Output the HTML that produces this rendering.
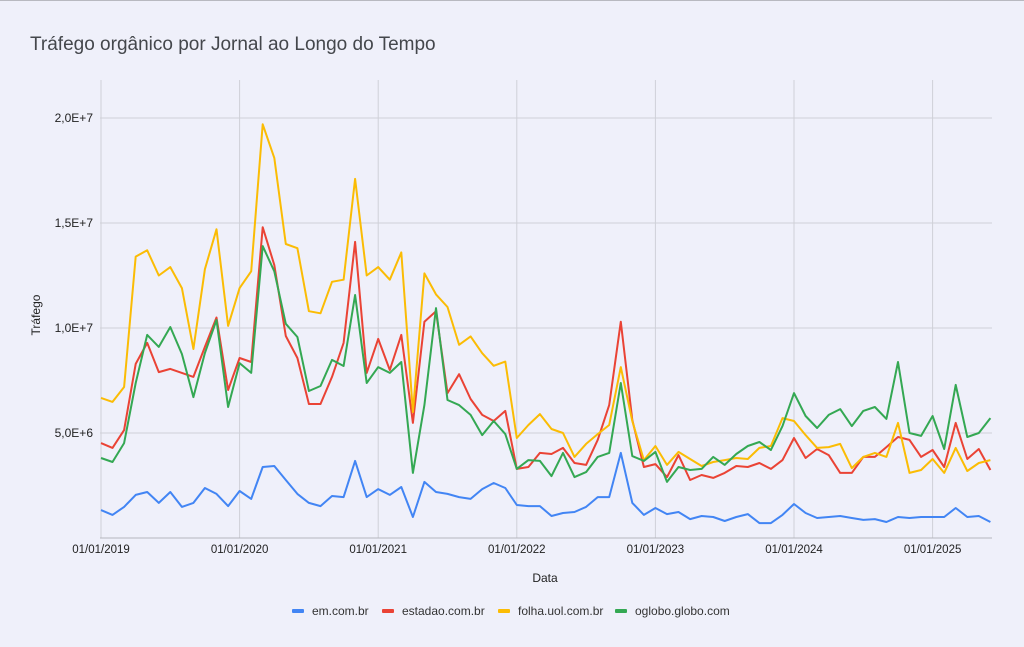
<!DOCTYPE html>
<html><head><meta charset="utf-8"><style>
html,body{margin:0;padding:0;background:#eff0fa;}
body{width:1024px;height:647px;overflow:hidden;position:relative;font-family:"Liberation Sans",Arial,sans-serif;}
</style></head><body>
<svg id="chart" width="1024" height="647" xmlns="http://www.w3.org/2000/svg" style="position:absolute;left:0;top:0">
<rect x="0" y="0" width="1024" height="647" fill="#eff0fa"/>
<line x1="0" y1="0.5" x2="1024" y2="0.5" stroke="#b8b9c0" stroke-width="1"/>
<text x="30" y="50" font-size="19" fill="#44474c">Tráfego orgânico por Jornal ao Longo do Tempo</text>
<g id="grid"></g>
<g id="series"></g>
<text x="545" y="582" font-size="12" fill="#222" text-anchor="middle">Data</text>
<text transform="translate(40,315) rotate(-90)" font-size="12" fill="#222" text-anchor="middle">Tráfego</text>
<g id="legend"></g>
</svg>
<script>
const names=["em.com.br","estadao.com.br","folha.uol.com.br","oglobo.globo.com"];
const colors=["#4285f4","#ea4335","#fbbc04","#34a853"];
const yTicks=[5e6,1e7,1.5e7,2e7];
const yTickLabels=["5,0E+6","1,0E+7","1,5E+7","2,0E+7"];
const xTickLabels=["01/01/2019","01/01/2020","01/01/2021","01/01/2022","01/01/2023","01/01/2024","01/01/2025"];
const xTickMonths=[0,12,24,36,48,60,72];
const em=[1.33,1.10,1.48,2.05,2.19,1.67,2.19,1.48,1.67,2.38,2.10,1.52,2.24,1.86,3.38,3.43,2.76,2.10,1.67,1.52,2.0,1.95,3.67,1.95,2.33,2.05,
2.43,1.0,2.67,2.19,2.1,1.95,1.86,2.33,2.62,2.38,1.57,1.52,1.52,1.05,1.19,1.24,1.48,1.95,1.95,4.05,1.67,
1.1,1.43,1.14,1.24,0.9,1.05,1.0,0.81,1.0,1.14,0.71,0.71,1.1,1.62,1.19,0.95,1.0,1.05,0.95,0.86,0.9,0.76,1.0,0.95,1.0,1.0,1.0,1.43,1.0,1.05,0.76];
const estadao=[4.52,4.29,5.14,8.29,9.29,7.90,8.05,7.86,7.67,9.10,10.5,7.05,8.57,8.38,14.8,13.0,9.62,8.57,6.38,6.38,7.67,9.29,14.1,7.86,9.48,8.0,
9.67,5.48,10.3,10.8,6.9,7.8,6.62,5.86,5.57,6.05,3.29,3.38,4.05,4.0,4.29,3.57,3.48,4.67,6.33,10.3,5.62,
3.38,3.52,2.90,3.95,2.76,3.0,2.86,3.1,3.43,3.38,3.57,3.29,3.71,4.76,3.81,4.24,3.95,3.1,3.1,3.86,3.86,4.33,4.81,4.67,3.86,4.19,3.38,5.48,3.76,4.24,3.24];
const folha=[6.67,6.48,7.19,13.4,13.7,12.5,12.9,11.9,9.0,12.8,14.7,10.1,11.9,12.7,19.7,18.1,14.0,13.8,10.8,10.7,12.2,12.3,17.1,12.5,12.9,12.3,
13.6,6.0,12.6,11.6,11.0,9.2,9.6,8.8,8.2,8.4,4.76,5.38,5.9,5.19,5.0,3.86,4.48,4.95,5.38,8.14,5.57,
3.71,4.38,3.48,4.1,3.76,3.43,3.62,3.71,3.81,3.76,4.29,4.38,5.71,5.57,4.9,4.29,4.33,4.48,3.33,3.86,4.05,3.86,5.48,3.1,3.24,3.76,3.1,4.29,3.19,3.57,3.71];
const oglobo=[3.81,3.62,4.52,7.38,9.67,9.10,10.05,8.76,6.71,8.81,10.38,6.24,8.33,7.86,13.9,12.7,10.2,9.57,7.0,7.24,8.48,8.19,11.57,7.38,8.14,7.86,
8.38,3.1,6.33,10.95,6.57,6.33,5.86,4.9,5.57,4.95,3.29,3.71,3.67,2.95,4.05,2.90,3.14,3.86,4.05,7.38,3.90,
3.67,4.1,2.67,3.38,3.24,3.29,3.86,3.48,4.0,4.38,4.57,4.19,5.33,6.9,5.81,5.24,5.86,6.14,5.33,6.05,6.24,5.67,8.38,5.0,4.86,5.81,4.24,7.29,4.81,5.0,5.71];
const seriesData=[em,estadao,folha,oglobo];
const NS="http://www.w3.org/2000/svg";
const x0=101,dx=11.55,yBase=538,pxPerUnit=105/5e6;
const X=i=>x0+dx*i;
const Y=v=>yBase-v*pxPerUnit;
function mk(tag,attrs,parent){const e=document.createElementNS(NS,tag);for(const k in attrs)e.setAttribute(k,attrs[k]);parent.appendChild(e);return e;}
const grid=document.getElementById('grid');
yTicks.forEach((t,i)=>{
  const l=mk('line',{x1:100,x2:992,y1:Y(t),y2:Y(t),stroke:'#cfd0d8','stroke-width':1},grid);
  
  
  const tx=mk('text',{x:93,y:Y(t)+4,'font-size':12,fill:'#222','text-anchor':'end'},grid);
  tx.textContent=yTickLabels[i];
  
  
});
xTickMonths.forEach((m,i)=>{
  const l=mk('line',{x1:X(m),x2:X(m),y1:80,y2:538,stroke:'#cfd0d8','stroke-width':1},grid);
  
  
  const tx=mk('text',{x:X(m),y:553,'font-size':11.5,fill:'#222','text-anchor':'middle'},grid);
  tx.textContent=xTickLabels[i];
  
  
});
const base=mk('line',{x1:100,x2:992,y1:yBase,y2:yBase,stroke:'#b5b6bd','stroke-width':1},grid);


const sg=document.getElementById('series');
seriesData.forEach((d,s)=>{
  const pts=d.map((v,i)=>X(i).toFixed(1)+','+Y(v*1e6).toFixed(1)).join(' ');
  const p=mk('polyline',{points:pts,fill:'none',stroke:colors[s],'stroke-width':2,'stroke-linejoin':'round'},sg);
  
  
});
const lg=document.getElementById('legend');
const lx=[292,382,498,615];
names.forEach((n,i)=>{
  const r=mk('rect',{x:lx[i],y:609,width:12,height:4,rx:1,fill:colors[i]},lg);
  
  
  const t=mk('text',{x:lx[i]+20,y:615,'font-size':12,fill:'#333'},lg);
  t.textContent=n;
  
  
});
</script>
</body></html>
